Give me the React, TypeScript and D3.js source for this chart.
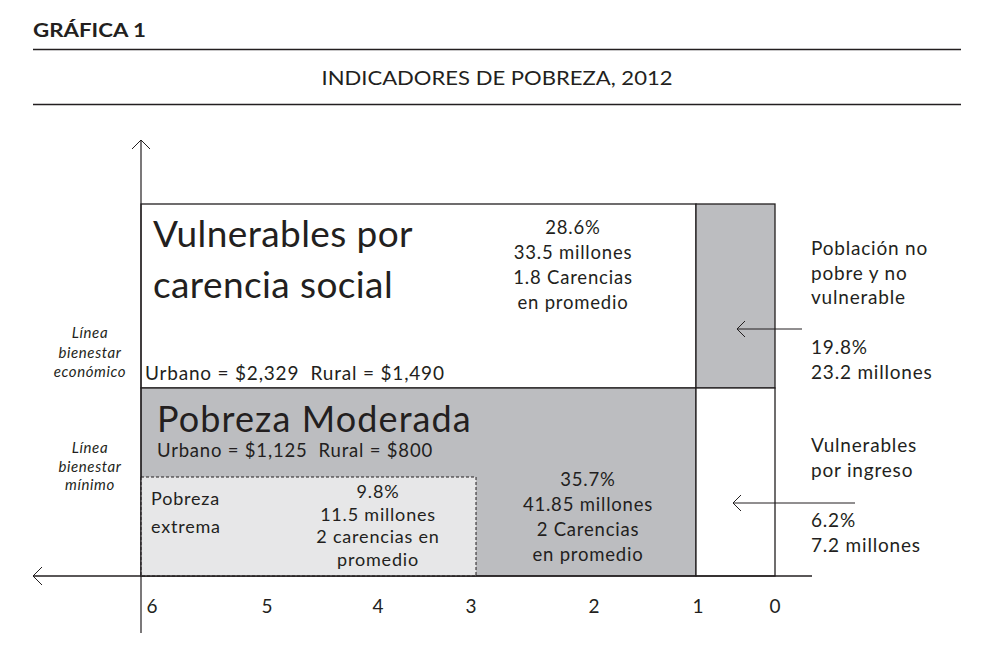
import React from "react";
import * as d3 from "d3";

const xTicks = [6, 5, 4, 3, 2, 1, 0];
const levels = ["base", "minimo", "economico", "top"];

type Region = { id: string; x0: number; x1: number; y0: string; y1: string; fill: string; dashed?: boolean };
const regions: Region[] = [
  { id: "vulCarencia", x0: 6, x1: 1, y0: "economico", y1: "top", fill: "#ffffff" },
  { id: "noPobre", x0: 1, x1: 0, y0: "economico", y1: "top", fill: "#bcbdc0" },
  { id: "moderada", x0: 6, x1: 1, y0: "base", y1: "economico", fill: "#bcbdc0" },
  { id: "vulIngreso", x0: 1, x1: 0, y0: "base", y1: "economico", fill: "#ffffff" },
  { id: "extrema", x0: 6, x1: 3, y0: "base", y1: "minimo", fill: "#e7e7e8", dashed: true },
];

const vulCarenciaStats = ["28.6%", "33.5 millones", "1.8 Carencias", "en promedio"];
const moderadaStats = ["35.7%", "41.85 millones", "2 Carencias", "en promedio"];
const extremaStats = ["9.8%", "11.5 millones", "2 carencias en", "promedio"];
const noPobreLabel = ["Población no", "pobre y no", "vulnerable"];
const noPobreStats = ["19.8%", "23.2 millones"];
const vulIngresoLabel = ["Vulnerables", "por ingreso"];
const vulIngresoStats = ["6.2%", "7.2 millones"];
const lineaEconomico = ["Línea", "bienestar", "económico"];
const lineaMinimo = ["Línea", "bienestar", "mínimo"];

const FONT = "Lato, 'Noto Sans', sans-serif";
const INK = "#231f20";
const LS = 0.8;

export default function App() {
  const x = d3.scaleLinear().domain([6, 3, 1, 0]).range([141, 476, 696, 775]);
  const xLabel = d3.scaleLinear().domain(xTicks).range([152, 267, 378, 471, 594, 698, 775]);
  const yIdx = d3.scaleOrdinal<string, number>().domain(levels).range([0, 1, 2, 3]);
  const yS = d3.scaleLinear().domain([0, 1, 2, 3]).range([576, 477, 388, 204]);
  const y = (l: string) => yS(yIdx(l));

  const lines = (arr: string[], x0: number, y0: number, dy: number, size: number, anchor: string = "start", style: any = {}) =>
    arr.map((t, i) => (
      <text key={t + i} x={x0} y={y0 + i * dy} fontSize={size} textAnchor={anchor} fill={INK} letterSpacing={LS} {...style}>
        {t}
      </text>
    ));

  const chevron = (px: number, py: number, dir: "left" | "up", s = 9) =>
    dir === "left"
      ? `M${px + s},${py - s} L${px},${py} L${px + s},${py + s}`
      : `M${px - s},${py + s} L${px},${py} L${px + s},${py + s}`;

  return (
    <svg width={994} height={650} style={{ position: "absolute", left: 0, top: 0, background: "#fff" }} fontFamily={FONT}>
      <rect width={994} height={650} fill="#fff" />
      <text x={33} y={37} fontSize={19} fontWeight={700} fill={INK} textLength={113} lengthAdjust="spacingAndGlyphs">GRÁFICA 1</text>
      <line x1={33} x2={961} y1={49.5} y2={49.5} stroke={INK} strokeWidth={1.3} />
      <text x={497} y={85} fontSize={20} fill={INK} textAnchor="middle" textLength={351} lengthAdjust="spacingAndGlyphs">INDICADORES DE POBREZA, 2012</text>
      <line x1={33} x2={961} y1={104.5} y2={104.5} stroke={INK} strokeWidth={1.3} />

      {regions.map((r) => (
        <rect
          key={r.id}
          x={x(r.x0)}
          y={y(r.y1)}
          width={x(r.x1) - x(r.x0)}
          height={y(r.y0) - y(r.y1)}
          fill={r.fill}
          stroke={INK}
          strokeWidth={r.dashed ? 1 : 1.3}
          strokeDasharray={r.dashed ? "3,2" : undefined}
        />
      ))}

      {/* axes */}
      <line x1={x(6)} x2={x(6)} y1={140} y2={633} stroke={INK} strokeWidth={1.2} />
      <path d={chevron(x(6), 140, "up")} fill="none" stroke={INK} strokeWidth={1} />
      <line x1={33} x2={812} y1={y("base")} y2={y("base")} stroke={INK} strokeWidth={1.3} />
      <path d={chevron(33, y("base"), "left")} fill="none" stroke={INK} strokeWidth={1} />
      {xTicks.map((t) => (
        <text key={t} x={xLabel(t)} y={613} fontSize={19} textAnchor="middle" fill={INK}>{t}</text>
      ))}

      {/* texts in top block */}
      {lines(["Vulnerables por", "carencia social"], 153, 247, 51, 37, "start", { letterSpacing: 0.4 })}
      {lines(vulCarenciaStats, 573, 234, 25, 18.5, "middle")}
      <text x={145} y={380} fontSize={19} fill={INK} letterSpacing={LS} xmlSpace="preserve">Urbano = $2,329  Rural = $1,490</text>

      {/* moderada */}
      <text x={157} y={432} fontSize={36} fill={INK} letterSpacing={1.1}>Pobreza Moderada</text>
      <text x={157} y={457} fontSize={18.5} fill={INK} letterSpacing={LS} xmlSpace="preserve">Urbano = $1,125  Rural = $800</text>
      {lines(moderadaStats, 588, 486, 25, 18.5, "middle")}

      {/* extrema */}
      {lines(["Pobreza", "extrema"], 151, 505, 28, 18)}
      {lines(extremaStats, 378, 498, 22.5, 18, "middle")}

      {/* left italic labels */}
      {lines(lineaEconomico, 90, 338, 19.5, 15, "middle", { fontStyle: "italic", letterSpacing: 0.6 })}
      {lines(lineaMinimo, 90, 453, 18.5, 15, "middle", { fontStyle: "italic", letterSpacing: 0.6 })}

      {/* right annotations */}
      {lines(noPobreLabel, 811, 255, 24.5, 19)}
      <line x1={737} x2={802} y1={329} y2={329} stroke={INK} strokeWidth={1} />
      <path d={chevron(737, 329, "left", 8)} fill="none" stroke={INK} strokeWidth={1} />
      {lines(noPobreStats, 811, 354, 25, 19)}

      {lines(vulIngresoLabel, 811, 452, 25, 19)}
      <line x1={733} x2={855} y1={503} y2={503} stroke={INK} strokeWidth={1} />
      <path d={chevron(733, 503, "left", 8)} fill="none" stroke={INK} strokeWidth={1} />
      {lines(vulIngresoStats, 811, 527, 25, 19)}
    </svg>
  );
}
